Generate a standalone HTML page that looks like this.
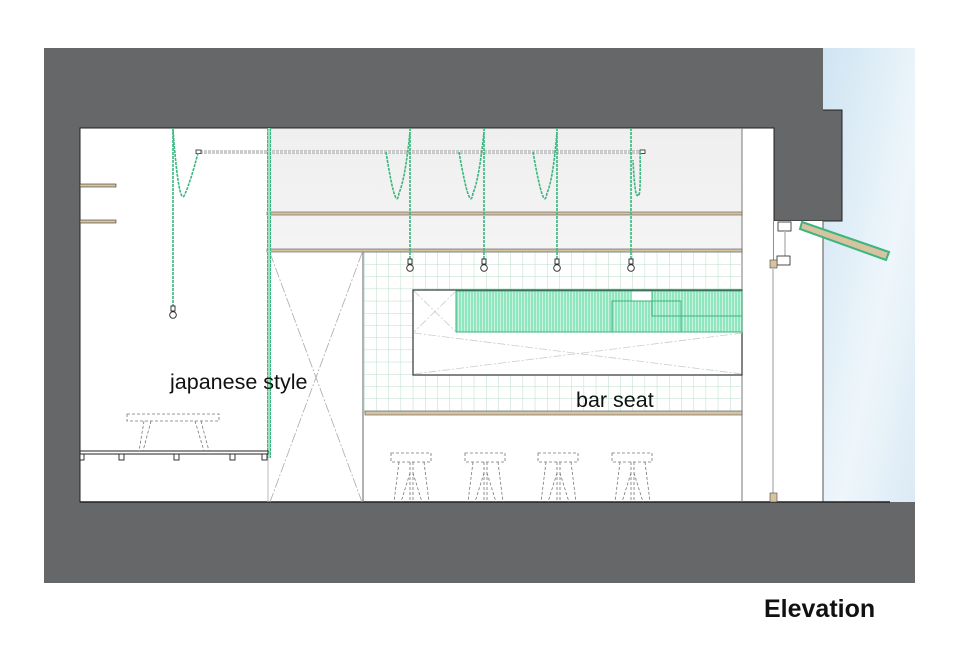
<!DOCTYPE html>
<html><head><meta charset="utf-8"><style>
html,body{margin:0;padding:0;background:#fff;}
svg{display:block;}
</style></head><body>
<svg width="960" height="663" viewBox="0 0 960 663" xmlns="http://www.w3.org/2000/svg">
<defs>
<linearGradient id="sky" x1="0" y1="0" x2="1" y2="1">
<stop offset="0" stop-color="#cfe4f2"/><stop offset="0.6" stop-color="#eef6fb"/><stop offset="1" stop-color="#dbeaf5"/>
</linearGradient>
<linearGradient id="ceil" x1="0" y1="0" x2="0" y2="1">
<stop offset="0" stop-color="#efefef"/><stop offset="1" stop-color="#f4f4f4"/>
</linearGradient>
<pattern id="grid" x="364" y="252" width="12.2" height="12.2" patternUnits="userSpaceOnUse">
<path d="M0 0H12.2M0 0V12.2" stroke="#b9dcc9" stroke-width="1" fill="none"/>
</pattern>
<pattern id="stripes" x="0" y="0" width="3" height="10" patternUnits="userSpaceOnUse">
<rect width="3" height="10" fill="#8fe6bf"/><rect x="2" width="1" height="10" fill="#c9f3df"/>
</pattern>
</defs>
<rect x="44" y="48" width="871" height="535" fill="#666768"/>
<rect x="823" y="48" width="92" height="454" fill="url(#sky)"/>
<polygon points="774,128 774,221 842,221 842,110 823,110 823,48 744,48" fill="#666768"/>
<polyline points="774,128 774,221 842,221 842,110 823,110" fill="none" stroke="#222" stroke-width="1"/>
<rect x="80" y="128" width="694" height="374" fill="#fff" stroke="#222" stroke-width="1"/>
<rect x="774" y="221" width="49" height="281" fill="#fff"/>
<line x1="823" y1="221" x2="823" y2="502" stroke="#555" stroke-width="1"/>
<line x1="80" y1="502" x2="890" y2="502" stroke="#222" stroke-width="1.5"/>
<rect x="268" y="129" width="474" height="123" fill="url(#ceil)"/>
<line x1="742" y1="128" x2="742" y2="502" stroke="#777" stroke-width="1"/>
<rect x="364" y="252" width="378" height="161" fill="url(#grid)"/>
<line x1="363" y1="252" x2="363" y2="502" stroke="#666" stroke-width="1"/>
<rect x="267" y="212" width="475" height="3" fill="#d8c3a0" stroke="#555" stroke-width="0.6"/>
<rect x="267" y="249" width="475" height="3" fill="#d8c3a0" stroke="#555" stroke-width="0.6"/>
<rect x="365" y="411" width="377" height="4" fill="#d8c3a0" stroke="#555" stroke-width="0.6"/>
<rect x="80" y="184" width="36" height="3" fill="#d8c3a0" stroke="#333" stroke-width="0.6"/>
<rect x="80" y="220" width="36" height="3" fill="#d8c3a0" stroke="#333" stroke-width="0.6"/>
<g stroke="#aaa" stroke-width="0.8" stroke-dasharray="10,2,2,2" fill="none">
<line x1="270" y1="253" x2="362" y2="502"/><line x1="362" y1="253" x2="270" y2="502"/>
</g>
<line x1="268" y1="252" x2="268" y2="502" stroke="#bbb"/>
<rect x="413" y="290" width="329" height="85" fill="#fff" stroke="#333" stroke-width="1.2"/>
<rect x="456" y="291" width="286" height="41" fill="url(#stripes)"/>
<rect x="632" y="291" width="20" height="10" fill="#fff"/>
<g stroke="#3cb57e" stroke-width="1" fill="none">
<rect x="456" y="291" width="286" height="41"/>
<rect x="612" y="301" width="69" height="31"/>
<rect x="652" y="291" width="90" height="25"/>
<line x1="681" y1="316" x2="742" y2="316"/>
</g>
<g stroke="#ccc" stroke-width="0.8" fill="none" stroke-dasharray="8,2,2,2">
<line x1="414" y1="291" x2="456" y2="332"/><line x1="456" y1="291" x2="414" y2="332"/>
<line x1="414" y1="333" x2="742" y2="374"/><line x1="742" y1="333" x2="414" y2="374"/>
</g>
<line x1="200" y1="152" x2="641" y2="152" stroke="#999" stroke-width="3" stroke-dasharray="3,1"/>
<line x1="200" y1="152" x2="641" y2="152" stroke="#fff" stroke-width="1"/>
<rect x="196" y="150" width="5" height="3.5" fill="#fff" stroke="#222" stroke-width="0.8"/>
<rect x="640" y="150" width="5" height="3.5" fill="#fff" stroke="#222" stroke-width="0.8"/>
<g stroke="#3cb57e" stroke-width="1.6" fill="none" stroke-dasharray="3,1">
<line x1="173" y1="128" x2="173" y2="306"/>
<path d="M173 130 Q179 210 185 194 Q191 180 198 153"/>
<line x1="410" y1="128" x2="410" y2="259"/>
<path d="M386 152 Q396 215 399 193 Q405 180 410 132"/>
<line x1="484" y1="128" x2="484" y2="259"/>
<path d="M459 152 Q470 215 473 193 Q479 180 484 132"/>
<line x1="557" y1="128" x2="557" y2="259"/>
<path d="M533 152 Q544 215 547 193 Q553 180 557 132"/>
<line x1="631" y1="128" x2="631" y2="259"/>
<path d="M640 152 Q641 200 638 195 Q635 200 633 160"/>
</g>
<rect x="267" y="128" width="4" height="330" fill="#9be0bf"/>
<line x1="267.5" y1="128" x2="267.5" y2="458" stroke="#3cb57e" stroke-width="1" stroke-dasharray="3,1"/>
<line x1="270.5" y1="128" x2="270.5" y2="458" stroke="#3cb57e" stroke-width="1" stroke-dasharray="3,1"/>
<g fill="#fff" stroke="#222" stroke-width="0.9">
<g transform="translate(173,306)"><rect x="-2" y="0" width="4" height="5"/><circle cx="0" cy="9" r="3.3"/></g>
<g transform="translate(410,259)"><rect x="-2" y="0" width="4" height="5"/><circle cx="0" cy="9" r="3.3"/></g>
<g transform="translate(484,259)"><rect x="-2" y="0" width="4" height="5"/><circle cx="0" cy="9" r="3.3"/></g>
<g transform="translate(557,259)"><rect x="-2" y="0" width="4" height="5"/><circle cx="0" cy="9" r="3.3"/></g>
<g transform="translate(631,259)"><rect x="-2" y="0" width="4" height="5"/><circle cx="0" cy="9" r="3.3"/></g>
</g>
<rect x="80" y="451" width="188" height="3" fill="#fff" stroke="#222" stroke-width="1"/>
<g fill="#fff" stroke="#222" stroke-width="0.9">
<rect x="80" y="454" width="4" height="6"/><rect x="119" y="454" width="5" height="6"/><rect x="174" y="454" width="5" height="6"/><rect x="230" y="454" width="5" height="6"/><rect x="262" y="454" width="5" height="6"/>
</g>
<g stroke="#777" stroke-width="0.8" fill="none" stroke-dasharray="3,2">
<rect x="127" y="414" width="92" height="7"/>
<path d="M144 421 L139 451 M151 421 L143 451 M195 421 L204 451 M201 421 L209 451"/>
</g>
<g stroke="#777" stroke-width="0.8" fill="none" stroke-dasharray="3,2">
<g transform="translate(391,453)"><rect x="0" y="0" width="40" height="9"/><path d="M8 9 L3 49 M19 9 L19 49 M22 9 L22 49 M33 9 L38 49 M19 20 L10 49 M22 20 L31 49"/></g>
<g transform="translate(465,453)"><rect x="0" y="0" width="40" height="9"/><path d="M8 9 L3 49 M19 9 L19 49 M22 9 L22 49 M33 9 L38 49 M19 20 L10 49 M22 20 L31 49"/></g>
<g transform="translate(538,453)"><rect x="0" y="0" width="40" height="9"/><path d="M8 9 L3 49 M19 9 L19 49 M22 9 L22 49 M33 9 L38 49 M19 20 L10 49 M22 20 L31 49"/></g>
<g transform="translate(612,453)"><rect x="0" y="0" width="40" height="9"/><path d="M8 9 L3 49 M19 9 L19 49 M22 9 L22 49 M33 9 L38 49 M19 20 L10 49 M22 20 L31 49"/></g>
</g>
<rect x="778" y="222" width="13" height="9" fill="#fff" stroke="#222" stroke-width="0.8"/>
<line x1="785" y1="231" x2="785" y2="256" stroke="#bbb" stroke-width="1.5"/>
<rect x="777" y="256" width="13" height="9" fill="#fff" stroke="#222" stroke-width="0.8"/>
<rect x="770" y="260" width="7" height="8" fill="#d8c3a0" stroke="#444" stroke-width="0.6"/>
<line x1="773" y1="268" x2="773" y2="493" stroke="#ccc" stroke-width="2"/>
<rect x="770" y="493" width="7" height="9" fill="#d8c3a0" stroke="#444" stroke-width="0.6"/>
<polygon points="802,222 889,252 886,260 800,229" fill="#d8c3a0" stroke="#3cb57e" stroke-width="2"/>
<text x="170" y="389" font-family="Liberation Sans, sans-serif" font-size="21.5" fill="#111">japanese style</text>
<text x="576" y="407" font-family="Liberation Sans, sans-serif" font-size="21.5" fill="#111">bar seat</text>
<text x="764" y="617" font-family="Liberation Sans, sans-serif" font-size="25" font-weight="bold" fill="#111">Elevation</text>
</svg>
</body></html>
